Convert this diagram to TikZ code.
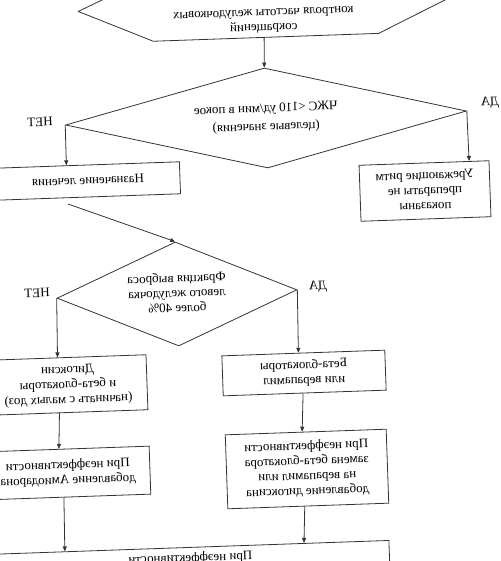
\documentclass[tikz,border=0pt]{standalone}
\usepackage{graphicx}
\usepackage{fontspec}
\setmainfont{Liberation Serif}
\usepackage{tikz}
\usetikzlibrary{arrows.meta,positioning,calc,shapes.geometric}
\definecolor{linegray}{HTML}{333333}
\newcommand{\mirr}[1]{\reflectbox{\begin{tabular}{@{}c@{}}#1\end{tabular}}}

\begin{document}
\begin{tikzpicture}[x=1pt,y=-1pt,
  base/.style={draw=linegray,line width=0.8pt,rotate=2,inner sep=2pt,font=\fontsize{13}{15}\selectfont},
  box/.style={base,rectangle},
  hexa/.style={base,rectangle,draw=none},
  cond/.style={base,diamond},
  lbl/.style={rotate=2,inner sep=0pt,font=\fontsize{13}{15}\selectfont},
  edge/.style={draw=linegray,line width=0.8pt,line join=round},
  ar/.style={-{Triangle[length=5pt,width=4pt]},draw=linegray,line width=0.8pt}]

\useasboundingbox (0,0) rectangle (500,561);
\clip (0,0) rectangle (500,561);

\node[hexa,minimum width=369pt,minimum height=64pt] (hx)  at (263,5)   {\mirr{\mbox{}\\\mbox{}\\контроля частоты желудочковых\\сокращений}};
\node[cond,aspect=4,minimum width=401pt,minimum height=100pt] (d1) at (266,118) {\mirr{ЧЖС <110 уд/мин в покое\\[3pt](целевые значения)}};
\node[box,minimum width=184pt,minimum height=32pt] (tx)  at (88,181)  {\mirr{Назначение лечения}};
\node[box,minimum width=130pt,minimum height=56pt] (rb)  at (425,191) {\mirr{Урежающие ритм\\препараты не\\показаны}};
\node[cond,aspect=2.3,minimum width=240pt,minimum height=104pt] (d2) at (177,294) {\mirr{Фракция выброса\\левого желудочка\\более 40\%}};
\node[box,minimum width=158pt,minimum height=55pt] (lb1) at (68,385)  {\mirr{Дигоксин\\и бета-блокаторы\\(начинать с малых доз)}};
\node[box,minimum width=163pt,minimum height=40pt] (rb1) at (304,373) {\mirr{Бета-блокаторы\\или верапамил}};
\node[box,minimum width=164pt,minimum height=48pt] (lb2) at (68,473)  {\mirr{При неэффективности\\добавление Амиодарона}};
\node[box,minimum width=161pt,minimum height=74pt] (rb2) at (307,469) {\mirr{При неэффективности\\замена бета-блокатора\\на верапамил или\\добавление дигоксина}};
\node[box,minimum width=398pt,anchor=north,text height=12pt,text depth=40pt] (bb) at (190,547) {\reflectbox{При неэффективности}};

\draw[edge] (hx.west) -- ($(hx.north west)!0.2!(hx.north east)$) -- ($(hx.north east)!0.2!(hx.north west)$)
  -- (hx.east) -- ($(hx.south east)!0.19!(hx.south west)$) -- ($(hx.south west)!0.2!(hx.south east)$) -- cycle;

\node[lbl] (n1) at (40,122)  {\reflectbox{НЕТ}};
\node[lbl] (y1) at (490,103) {\reflectbox{ДА}};
\node[lbl] (n2) at (37,293)  {\reflectbox{НЕТ}};
\node[lbl] (y2) at (318,287) {\reflectbox{ДА}};

\draw[ar] (hx.south) -- (d1.north);
\draw[ar] (d1.west) -- ($(tx.north west)!0.386!(tx.north east)$);
\draw[ar] (d1.east) -- ($(rb.north west)!0.845!(rb.north east)$);
\draw[ar] ($(tx.south west)!0.39!(tx.south east)+(0,6)$) -- (d2.north);
\draw[ar] (d2.west) -- ($(lb1.north west)!0.44!(lb1.north east)$);
\draw[ar] (d2.east) -- ($(rb1.north west)!0.47!(rb1.north east)$);
\draw[ar] ($(lb1.south west)!0.44!(lb1.south east)$) -- ($(lb2.north west)!0.45!(lb2.north east)$);
\draw[ar] ($(rb1.south west)!0.49!(rb1.south east)$) -- ($(rb2.north west)!0.478!(rb2.north east)$);
\draw[ar] ($(lb2.south west)!0.47!(lb2.south east)$) -- ($(bb.north west)!0.186!(bb.north east)$);
\draw[ar] ($(rb2.south west)!0.478!(rb2.south east)$) -- ($(bb.north west)!0.786!(bb.north east)$);
\end{tikzpicture}
\end{document}
